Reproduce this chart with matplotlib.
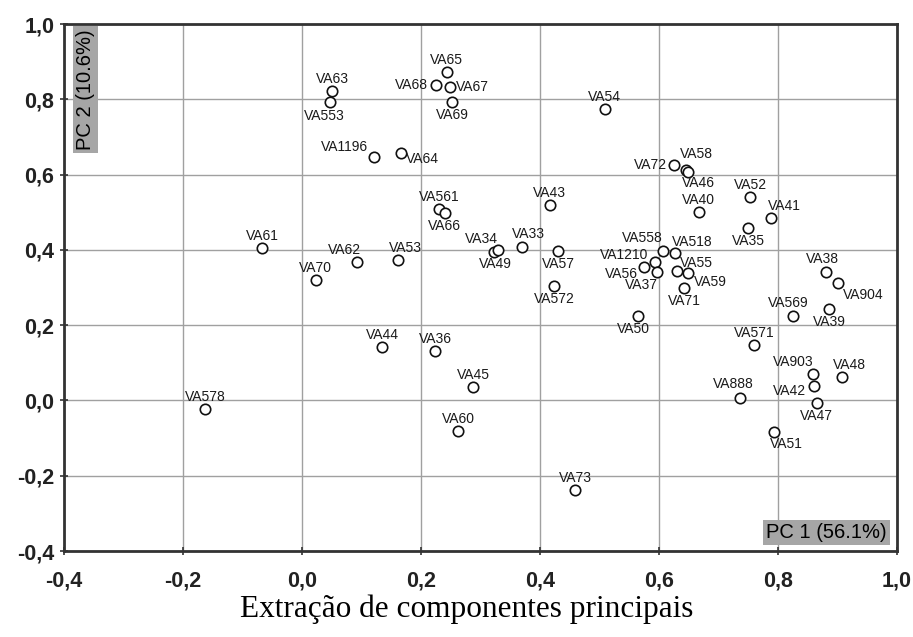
import matplotlib
matplotlib.use("Agg")
import matplotlib.pyplot as plt
from matplotlib.ticker import FuncFormatter, MultipleLocator

# PCA loadings of each variable on PC1 / PC2
names = [
    "VA65", "VA68", "VA67", "VA69", "VA63", "VA553", "VA1196", "VA64", "VA54",
    "VA72", "VA58", "VA46", "VA40", "VA52", "VA41", "VA35", "VA558", "VA518",
    "VA1210", "VA56", "VA37", "VA55", "VA59", "VA71", "VA38", "VA904", "VA569",
    "VA39", "VA571", "VA903", "VA42", "VA48", "VA888", "VA47", "VA51", "VA61",
    "VA70", "VA62", "VA53", "VA561", "VA66", "VA34", "VA49", "VA33", "VA43",
    "VA57", "VA572", "VA50", "VA44", "VA36", "VA45", "VA60", "VA578", "VA73",
]
pc1 = [
    0.243, 0.225, 0.249, 0.252, 0.051, 0.047, 0.121, 0.166, 0.509,
    0.625, 0.645, 0.649, 0.667, 0.753, 0.789, 0.750, 0.606, 0.627,
    0.593, 0.575, 0.597, 0.630, 0.649, 0.642, 0.881, 0.901, 0.825,
    0.886, 0.760, 0.858, 0.861, 0.907, 0.736, 0.865, 0.794, -0.067,
    0.023, 0.092, 0.162, 0.230, 0.240, 0.322, 0.330, 0.369, 0.416,
    0.431, 0.424, 0.565, 0.135, 0.224, 0.288, 0.263, -0.163, 0.459,
]
pc2 = [
    0.872, 0.837, 0.834, 0.794, 0.821, 0.794, 0.647, 0.657, 0.774,
    0.626, 0.611, 0.608, 0.501, 0.541, 0.484, 0.458, 0.397, 0.393,
    0.368, 0.354, 0.340, 0.344, 0.338, 0.300, 0.340, 0.313, 0.223,
    0.244, 0.147, 0.070, 0.039, 0.061, 0.007, -0.007, -0.083, 0.404,
    0.320, 0.369, 0.373, 0.509, 0.497, 0.394, 0.399, 0.407, 0.518,
    0.397, 0.304, 0.225, 0.143, 0.132, 0.035, -0.080, -0.023, -0.237,
]

# label placement: (dx, dy) in pixels from the marker, horizontal alignment
UP, DOWN = (0, 12, "center"), (0, -13, "center")
label_pos = {
    "VA68": (-8, 0, "right"), "VA67": (6, 0, "left"), "VA553": (-6, -14, "center"),
    "VA1196": (-6, 10, "right"), "VA64": (5, -6, "left"), "VA72": (-7, 0, "right"),
    "VA58": (-6, 16, "left"), "VA46": (-6, -11, "left"), "VA41": (13, 12, "center"),
    "VA558": (-20, 13, "center"), "VA518": (-3, 11, "left"), "VA1210": (-7, 7, "right"),
    "VA56": (-6, -7, "right"), "VA37": (1, -13, "right"), "VA55": (3, 8, "left"),
    "VA59": (6, -9, "left"), "VA38": (-4, 13, "center"), "VA904": (5, -12, "left"),
    "VA569": (-5, 13, "center"), "VA903": (-19, 12, "center"), "VA42": (-8, -5, "right"),
    "VA48": (8, 12, "center"), "VA888": (-7, 14, "center"), "VA51": (12, -12, "center"),
    "VA62": (-12, 12, "center"), "VA53": (7, 12, "center"), "VA34": (-12, 13, "center"),
    "VA49": (-3, -14, "center"), "VA33": (7, 13, "center"), "VA50": (-5, -13, "center"),
    "VA69": DOWN, "VA35": DOWN, "VA71": DOWN, "VA39": DOWN, "VA47": DOWN,
    "VA66": DOWN, "VA57": DOWN, "VA572": DOWN,
}

plt.rcParams["font.family"] = ["Liberation Sans", "DejaVu Sans"]

fig = plt.figure(figsize=(9.13, 6.37), dpi=100)
ax = fig.add_axes([0.0701, 0.135, 0.9124, 0.8273])

ax.plot(pc1, pc2, "o", markersize=7.5, markerfacecolor="white",
        markeredgecolor="#111111", markeredgewidth=1.2, zorder=3)

for name, x, y in zip(names, pc1, pc2):
    dx, dy, ha = label_pos.get(name, UP)
    ax.annotate(name, (x, y), xytext=(dx, dy), textcoords="offset pixels",
                ha=ha, va="center", fontsize=10, color="#1a1a1a", zorder=4)

ax.set_xlim(-0.4, 1.0)
ax.set_ylim(-0.4, 1.0)
ax.xaxis.set_major_locator(MultipleLocator(0.2))
ax.yaxis.set_major_locator(MultipleLocator(0.2))
comma = FuncFormatter(lambda v, pos: f"{v:.1f}".replace(".", ","))
ax.xaxis.set_major_formatter(comma)
ax.yaxis.set_major_formatter(comma)
ax.grid(True, color="#a0a0a0", linewidth=1.0, linestyle="-")
ax.set_axisbelow(True)

for spine in ax.spines.values():
    spine.set_linewidth(2.0)
    spine.set_color("#333333")
ax.tick_params(axis="both", direction="inout", length=6, width=1.2,
               color="#333333", labelsize=15.5)
ax.tick_params(axis="x", pad=11)
ax.tick_params(axis="y", pad=4)
for lbl in ax.get_xticklabels() + ax.get_yticklabels():
    lbl.set_fontweight("bold")
    lbl.set_color("#222222")

box = dict(boxstyle="square,pad=0.15", facecolor="#a6a6a6", edgecolor="none")
ax.text(0.0255, 0.99, "PC 2 (10.6%)", transform=ax.transAxes, rotation=90,
        ha="center", va="top", fontsize=14.5, bbox=box)
ax.text(0.988, 0.017, "PC 1 (56.1%)", transform=ax.transAxes,
        ha="right", va="bottom", fontsize=14.5, bbox=box)

fig.text(0.5115, 0.044, "Extração de componentes principais",
         family="Liberation Serif", fontsize=22.5, ha="center", va="center")

fig.savefig("out.png", dpi=100)
